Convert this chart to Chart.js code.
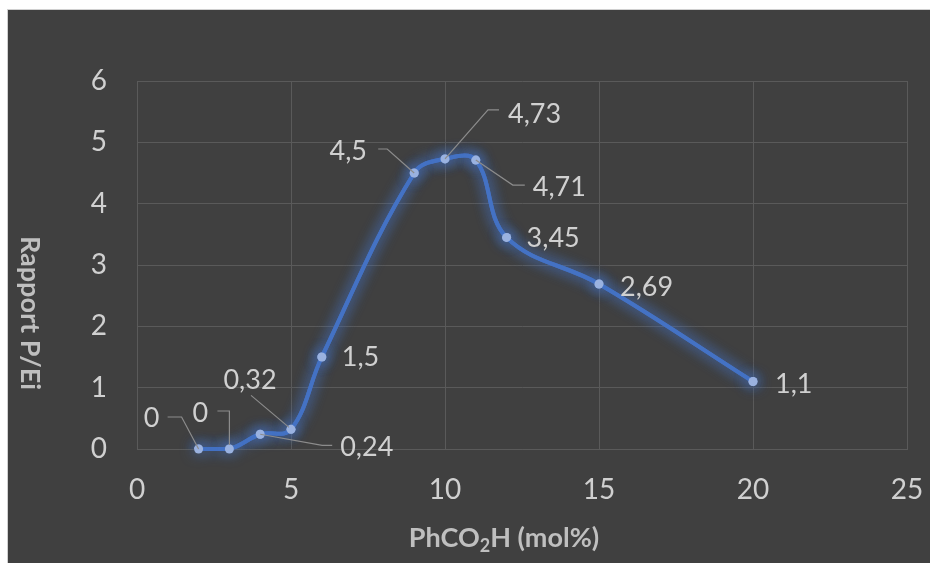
<!DOCTYPE html>
<html>
<head>
<meta charset="utf-8">
<script src="https://cdn.jsdelivr.net/npm/chart.js@4"></script>
<style>
  html, body { margin:0; padding:0; background:#ffffff; width:930px; height:563px; overflow:hidden; }
  #frame { position:absolute; left:7px; top:9px; width:922px; height:553px; background:#404040;
           border-top:1px solid #d0d0d0; border-left:1px solid #d0d0d0; }
  canvas { display:block; }
</style>
</head>
<body>
<div id="frame"><canvas id="c" width="922" height="553"></canvas></div>
<script>
// ---- data ----
const xValues = [2, 3, 4, 5, 6, 9, 10, 11, 12, 15, 20];
const yValues = [0, 0, 0.24, 0.32, 1.5, 4.5, 4.73, 4.71, 3.45, 2.69, 1.1];
const xTicks = [0, 5, 10, 15, 20, 25];
const yTicks = [0, 1, 2, 3, 4, 5, 6];
const xTitleParts = ["PhCO", "2", "H (mol%)"];
const yTitle = "Rapport P/Ei";

// ---- label layout (pixel offsets relative to each point) ----
const labelLayout = [
  {dx:-47, dy:-31, align:'center', leader:[[0,0],[-17,-32],[-31,-32]]},
  {dx:-29, dy:-36, align:'center', leader:[[0,-4],[0,-38],[-12,-38]]},
  {dx:80,  dy:13,  align:'left',   leader:[[0,0],[62,11],[72,11]]},
  {dx:-41, dy:-49, align:'center', leader:[[-2,-2],[-40,-34]]},
  {dx:20,  dy:0,   align:'left',   leader:null},
  {dx:-66, dy:-22, align:'center', leader:[[0,0],[-27,-24],[-36,-24]]},
  {dx:63,  dy:-45, align:'left',   leader:[[0,0],[43,-49],[54,-49]]},
  {dx:57,  dy:27,  align:'left',   leader:[[0,0],[37,25],[49,25]]},
  {dx:20,  dy:1,   align:'left',   leader:null},
  {dx:21,  dy:3,   align:'left',   leader:null},
  {dx:22,  dy:2,   align:'left',   leader:null}
];

const FONT = "Lato, 'Open Sans', 'Noto Sans', sans-serif";
const labelColor = '#d0d0d0';
const titleColor = '#bfbfbf';
const gridColor = '#5a5a5a';

function fmt(v){ return String(v).replace('.', ','); }

let glowing = false;
const glowPlugin = {
  id:'glow',
  beforeDatasetDraw(chart, args){
    const ctx = chart.ctx; ctx.save();
    ctx.shadowColor = 'rgba(68,114,196,0.9)';
    ctx.shadowBlur = 14;
    if (!glowing) { glowing = true; args.meta.controller.draw(); glowing = false; }
  },
  afterDatasetDraw(chart){ chart.ctx.restore(); }
};

const labelPlugin = {
  id:'labels',
  afterDatasetsDraw(chart){
    const ctx = chart.ctx;
    const meta = chart.getDatasetMeta(0);
    ctx.save();
    ctx.font = "27px " + FONT;
    meta.data.forEach((pt, i) => {
      const L = labelLayout[i];
      const px = pt.x, py = pt.y;
      if (L.leader) {
        ctx.strokeStyle = '#8c8c8c'; ctx.lineWidth = 1.2;
        ctx.beginPath();
        L.leader.forEach((p, k) => { k ? ctx.lineTo(px+p[0], py+p[1]) : ctx.moveTo(px+p[0], py+p[1]); });
        ctx.stroke();
      }
      ctx.fillStyle = labelColor;
      ctx.textAlign = L.align;
      ctx.textBaseline = 'alphabetic';
      ctx.fillText(fmt(yValues[i]), px + L.dx, py + L.dy + 9);
    });
    ctx.restore();
  }
};

const titlePlugin = {
  id:'titles',
  afterDraw(chart){
    const ctx = chart.ctx;
    ctx.save();
    ctx.fillStyle = titleColor;
    const big = "bold 27px " + FONT, small = "bold 18px " + FONT;
    ctx.font = big; const w0 = ctx.measureText(xTitleParts[0]).width;
    const w2 = ctx.measureText(xTitleParts[2]).width;
    ctx.font = small; const w1 = ctx.measureText(xTitleParts[1]).width;
    const total = w0 + w1 + w2;
    let x = 496 - total / 2; const base = 537;
    ctx.textAlign = 'left'; ctx.textBaseline = 'alphabetic';
    ctx.font = big; ctx.fillText(xTitleParts[0], x, base); x += w0;
    ctx.font = small; ctx.fillText(xTitleParts[1], x, base + 5); x += w1;
    ctx.font = big; ctx.fillText(xTitleParts[2], x, base);
    // y title, rotated clockwise
    ctx.translate(22, 303);
    ctx.rotate(Math.PI / 2);
    ctx.font = big; ctx.textAlign = 'center'; ctx.textBaseline = 'middle';
    ctx.fillText(yTitle, 0, 0);
    ctx.restore();
  }
};

new Chart(document.getElementById('c'), {
  type: 'scatter',
  data: {
    datasets: [{
      data: xValues.map((x, i) => ({x, y: yValues[i]})),
      showLine: true,
      borderColor: '#4472c4',
      borderWidth: 4,
      tension: 0.38,
      pointRadius: 4.5,
      pointBackgroundColor: '#9ab2e0',
      pointBorderWidth: 0,
      pointBorderColor: '#9ab2e0'
    }]
  },
  options: {
    responsive: false,
    animation: false,
    devicePixelRatio: 1,
    layout: { padding: { left: 0, right: 23, top: 71, bottom: 0 } },
    plugins: { legend: { display:false }, tooltip: { enabled:false } },
    scales: {
      x: {
        type: 'linear', min: 0, max: 25,
        afterBuildTicks(s){ s.ticks = xTicks.map(v => ({value:v})); },
        afterFit(s){ s.height = 114; },
        ticks: { color: labelColor, font: { family: FONT, size: 28 }, padding: 0 },
        grid: { color: gridColor, drawTicks: true, tickLength: 24, tickColor: 'rgba(0,0,0,0)', lineWidth: 1 },
        border: { color: gridColor }
      },
      y: {
        type: 'linear', min: 0, max: 6,
        afterBuildTicks(s){ s.ticks = yTicks.map(v => ({value:v})); },
        afterFit(s){ s.width = 129; },
        ticks: { color: labelColor, font: { family: FONT, size: 28 }, padding: 0 },
        grid: { color: gridColor, drawTicks: true, tickLength: 30, tickColor: 'rgba(0,0,0,0)', lineWidth: 1 },
        border: { color: gridColor }
      }
    }
  },
  plugins: [glowPlugin, labelPlugin, titlePlugin]
});
</script>
</body>
</html>
